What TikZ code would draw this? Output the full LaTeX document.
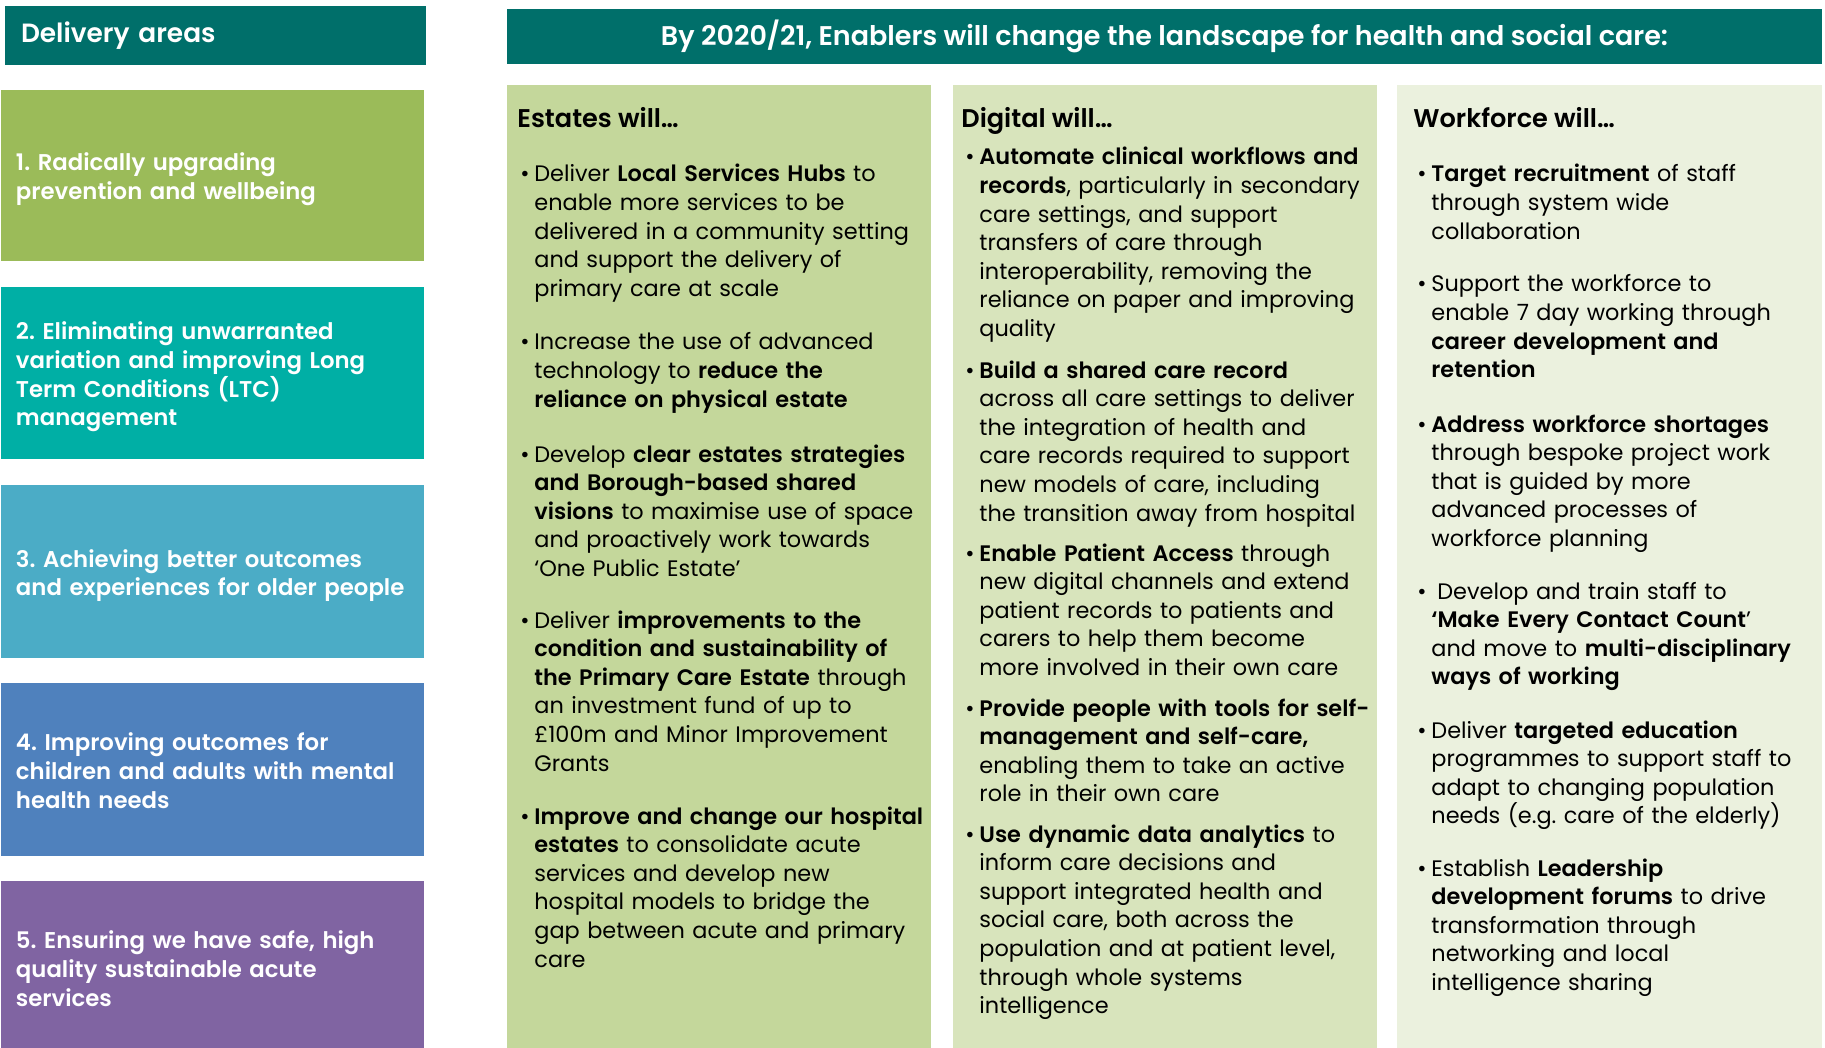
\documentclass[tikz,border=0pt]{standalone}
\usepackage{fontspec}
\setmainfont{Poppins}[BoldFont={Poppins SemiBold}]
\definecolor{hdrteal}{HTML}{006F6A}
\definecolor{areaA}{HTML}{9BBB59}
\definecolor{areaB}{HTML}{00AFA5}
\definecolor{areaC}{HTML}{4BACC6}
\definecolor{areaD}{HTML}{4F81BD}
\definecolor{areaE}{HTML}{8064A2}
\definecolor{colEst}{HTML}{C4D79B}
\definecolor{colDig}{HTML}{D8E4BC}
\definecolor{colWrk}{HTML}{EBF1DE}
\newcommand{\bulletmark}{\llap{\makebox[7pt][l]{\textbullet}}}
\frenchspacing
\begin{document}
\begin{tikzpicture}[x=0.5pt,y=-0.5pt,
  hdrbox/.style={fill=hdrteal, text=white, inner sep=0pt, font=\fontsize{13.5pt}{16pt}\selectfont\bfseries},
  areabox/.style={minimum width=211.5pt, inner sep=0pt},
  areatext/.style={anchor=west, inner sep=0pt, text width=205pt, align=left,
     text=white, font=\fontsize{11.4pt}{14.35pt}\selectfont\bfseries},
  colbox/.style={anchor=north west, minimum width=212pt, minimum height=481.5pt, inner sep=0pt},
  coltitle/.style={anchor=base west, inner sep=0pt, font=\fontsize{12.8pt}{15pt}\selectfont\bfseries},
  bul/.style={anchor=base west, inner sep=0pt, text width=240pt, align=left,
     font=\fontsize{11.2pt}{14.3pt}\selectfont}
]
\useasboundingbox (0,0) rectangle (1825,1048);
\fill[white] (0,0) rectangle (1825,1048);

% left headers and delivery areas
\node[hdrbox, minimum width=210.5pt, minimum height=29.5pt, text width=194.5pt, align=left,
  font=\fontsize{13.2pt}{16pt}\selectfont\bfseries] (dahdr) at (215.5,35.5) {Delivery areas};
\node[areabox, fill=areaA, minimum height=85.5pt] (a1) at (212.5,175.5) {};
\node[areabox, fill=areaB, minimum height=86pt] (a2) at (212.5,373) {};
\node[areabox, fill=areaC, minimum height=86.5pt] (a3) at (212.5,571.5) {};
\node[areabox, fill=areaD, minimum height=86.5pt] (a4) at (212.5,769.5) {};
\node[areabox, fill=areaE, minimum height=87.5pt] (a5) at (212.5,968.5) {};
\node[areatext] (a1t) at ([xshift=7.5pt,yshift=-2pt]a1.west) {1. Radically upgrading\\prevention and wellbeing};
\node[areatext] (a2t) at ([xshift=7.5pt,yshift=-2pt]a2.west) {2. Eliminating unwarranted\\variation and improving Long\\Term Conditions (LTC)\\management};
\node[areatext] (a3t) at ([xshift=7.5pt,yshift=-2pt]a3.west) {3. Achieving better outcomes\\and experiences for older people};
\node[areatext] (a4t) at ([xshift=7.5pt,yshift=-0.5pt]a4.west) {4. Improving outcomes for\\children and adults with mental\\health needs};
\node[areatext] (a5t) at ([xshift=7.5pt,yshift=0pt]a5.west) {5. Ensuring we have safe, high\\quality sustainable acute\\services};

% right header
\node[hdrbox, minimum width=657.5pt, minimum height=27.5pt] (enhdr) at (1164.5,36.5) {By 2020/21, Enablers will change the landscape for health and social care:};

% columns
\node[colbox, fill=colEst] (est) at (507,85) {};
\node[colbox, fill=colDig] (dig) at (953,85) {};
\node[colbox, fill=colWrk, minimum width=212.5pt] (wrk) at (1397,85) {};

\node[coltitle] (esttitle) at (517,128) {Estates will…};
\node[coltitle] (digtitle) at (961,128) {Digital will…};
\node[coltitle] (wrktitle) at (1413,128) {Workforce will…};

% Estates
\node[bul] (e1) at (534,182) {\bulletmark Deliver \textbf{Local Services Hubs} to\\enable more services to be\\delivered in a community setting\\and support the delivery of\\primary care at scale};
\node[bul] (e2) at (534,350) {\bulletmark Increase the use of advanced\\technology to \textbf{reduce the}\\\textbf{reliance on physical estate}};
\node[bul] (e3) at (534,462) {\bulletmark Develop \textbf{clear estates strategies}\\\textbf{and Borough-based shared}\\\textbf{visions} to maximise use of space\\and proactively work towards\\‘One Public Estate’};
\node[bul] (e4) at (534,628) {\bulletmark Deliver \textbf{improvements to the}\\\textbf{condition and sustainability of}\\\textbf{the Primary Care Estate} through\\an investment fund of up to\\£100m and Minor Improvement\\Grants};
\node[bul] (e5) at (534,824) {\bulletmark \textbf{Improve and change our hospital}\\\textbf{estates} to consolidate acute\\services and develop new\\hospital models to bridge the\\gap between acute and primary\\care};

% Digital
\node[bul] (d1) at (979,165) {\bulletmark \textbf{Automate clinical workflows and}\\\textbf{records}, particularly in secondary\\care settings, and support\\transfers of care through\\interoperability, removing the\\reliance on paper and improving\\quality};
\node[bul] (d2) at (979,378) {\bulletmark \textbf{Build a shared care record}\\across all care settings to deliver\\the integration of health and\\care records required to support\\new models of care, including\\the transition away from hospital};
\node[bul] (d3) at (979,561) {\bulletmark \textbf{Enable Patient Access} through\\new digital channels and extend\\patient records to patients and\\carers to help them become\\more involved in their own care};
\node[bul] (d4) at (979,716) {\bulletmark \textbf{Provide people with tools for self-}\\\textbf{management and self-care,}\\enabling them to take an active\\role in their own care};
\node[bul] (d5) at (979,842) {\bulletmark \textbf{Use dynamic data analytics} to\\inform care decisions and\\support integrated health and\\social care, both across the\\population and at patient level,\\through whole systems\\intelligence};

% Workforce
\node[bul] (w1) at (1431,182) {\bulletmark \textbf{Target recruitment} of staff\\through system wide\\collaboration};
\node[bul] (w2) at (1431,292) {\bulletmark Support the workforce to\\enable 7 day working through\\\textbf{career development and}\\\textbf{retention}};
\node[bul] (w3) at (1431,432) {\bulletmark \textbf{Address workforce shortages}\\through bespoke project work\\that is guided by more\\advanced processes of\\workforce planning};
\node[bul] (w4) at (1431,599) {\bulletmark\hspace{3pt}Develop and train staff to\\\textbf{‘Make Every Contact Count}’\\and move to \textbf{multi-disciplinary}\\\textbf{ways of working}};
\node[bul] (w5) at (1431,738) {\bulletmark Deliver \textbf{targeted education}\\programmes to support staff to\\adapt to changing population\\needs (e.g. care of the elderly)};
\node[bul] (w6) at (1431,876) {\bulletmark Establish \textbf{Leadership}\\\textbf{development forums} to drive\\transformation through\\networking and local\\intelligence sharing};
\end{tikzpicture}
\end{document}
